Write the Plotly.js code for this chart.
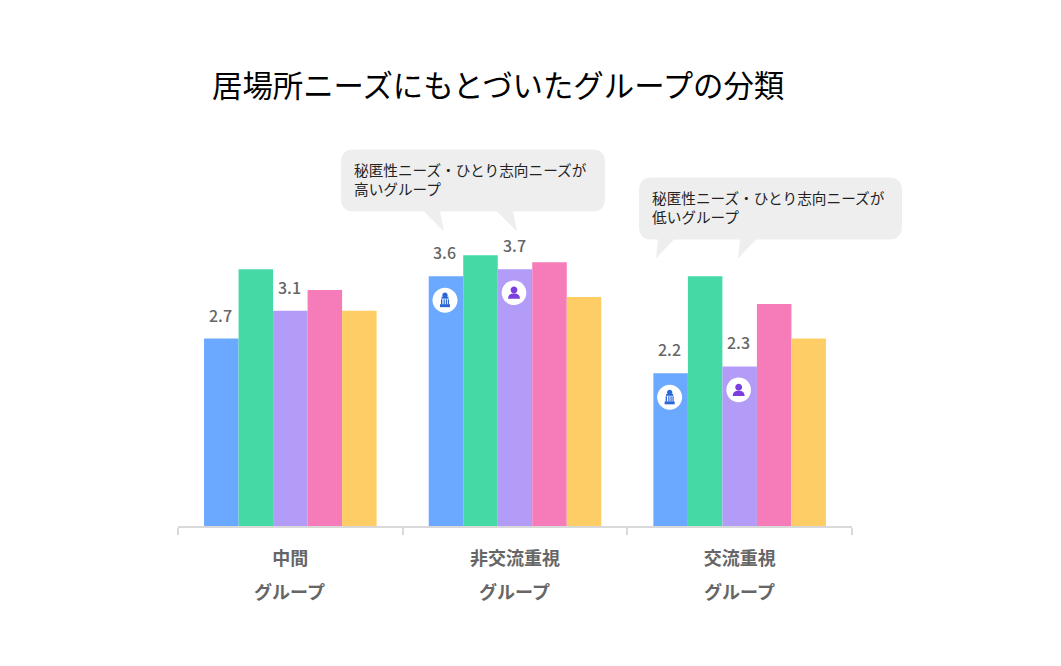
<!DOCTYPE html>
<html>
<head>
<meta charset="utf-8">
<script src="https://cdn.plot.ly/plotly-3.0.1.min.js"></script>
<style>
html, body { margin: 0; padding: 0; background: #fff; }
#plot { width: 1061px; height: 666px; }
</style>
</head>
<body>
<div id="plot"></div>
<script>
// values
const categories = ["中間", "非交流重視", "交流重視"]
const subLabels = ["グループ", "グループ", "グループ"]
const blueValues = [2.7, 3.6, 2.2]
const greenValues = [3.7, 3.9, 3.6]
const purpleValues = [3.1, 3.7, 2.3]
const pinkValues = [3.4, 3.8, 3.2]
const yellowValues = [3.1, 3.3, 2.7]
const seriesColors = ["#6aa9ff", "#45d9a5", "#b39cf8", "#f67bb9", "#ffcd66"]

const titleText = "居場所ニーズにもとづいたグループの分類"
const highNote = "秘匿性ニーズ・ひとり志向ニーズが<br>高いグループ"
const lowNote = "秘匿性ニーズ・ひとり志向ニーズが<br>低いグループ"

const W = 1061
const H = 666
const FONT = '"Noto Sans CJK JP", "Noto Sans", sans-serif'
const margin = { l: 178, r: 209, t: 178.5, b: 140, pad: 0 }
const barGap = 0.232
const barStep = (1 - barGap) / 5
const blueOffset = -2 * barStep
const purpleOffset = 0

// pixel position in the window -> paper coordinates
const paperX = (px) => (px - margin.l) / (W - margin.l - margin.r)
const paperY = (py) => (H - margin.b - py) / (H - margin.t - margin.b)

function bubblePath(x0, y0, x1, y1, r, tails) {
    // rounded box with pointed tails along the bottom edge, right to left
    let d = `M${paperX(x0 + r)},${paperY(y0)} L${paperX(x1 - r)},${paperY(y0)} `
    d += `Q${paperX(x1)},${paperY(y0)} ${paperX(x1)},${paperY(y0 + r)} `
    d += `L${paperX(x1)},${paperY(y1 - r)} `
    d += `Q${paperX(x1)},${paperY(y1)} ${paperX(x1 - r)},${paperY(y1)} `
    for (let t of tails) {
        d += `L${paperX(t[0])},${paperY(y1)} L${paperX(t[1])},${paperY(t[2])} L${paperX(t[3])},${paperY(y1)} `
    }
    d += `L${paperX(x0 + r)},${paperY(y1)} `
    d += `Q${paperX(x0)},${paperY(y1)} ${paperX(x0)},${paperY(y1 - r)} `
    d += `L${paperX(x0)},${paperY(y0 + r)} `
    d += `Q${paperX(x0)},${paperY(y0)} ${paperX(x0 + r)},${paperY(y0)} Z`
    return {
        type: "path", xref: "paper", yref: "paper", path: d,
        fillcolor: "#eeeeee", line: { width: 0 }, layer: "above"
    }
}

function pixelShape(x, value, path, color) {
    // path is in pixels relative to the top of the bar
    return {
        type: "path", xref: "x", yref: "y",
        xsizemode: "pixel", ysizemode: "pixel",
        xanchor: x, yanchor: value, path: path,
        fillcolor: color, line: { width: 0 }, layer: "above"
    }
}

function circlePath(cx, cy, r) {
    // four cubic segments, arcs do not survive the pixel size mode
    const k = 0.5523 * r
    return `M${cx - r},${cy} C${cx - r},${cy + k} ${cx - k},${cy + r} ${cx},${cy + r} ` +
        `C${cx + k},${cy + r} ${cx + r},${cy + k} ${cx + r},${cy} ` +
        `C${cx + r},${cy - k} ${cx + k},${cy - r} ${cx},${cy - r} ` +
        `C${cx - k},${cy - r} ${cx - r},${cy - k} ${cx - r},${cy} Z`
}

function towerIcon(x, value) {
    const color = "#2a66d6"
    const cx = -1
    const cy = -24
    const rect = (l, r, t, b) => `M${cx + l},${cy + t} L${cx + r},${cy + t} L${cx + r},${cy + b} L${cx + l},${cy + b} Z`
    return [
        pixelShape(x, value, circlePath(cx, cy, 12.5), "#ffffff"),
        pixelShape(x, value, circlePath(cx, cy + 5, 2.6), color),
        pixelShape(x, value, rect(-3.5, 3.5, 3.5, 1.5), color),
        pixelShape(x, value, rect(-4, -2.6, 1, -4) + " " + rect(-1.4, -0.2, 1, -4) + " " + rect(0.8, 2, 1, -4) + " " + rect(2.8, 4, 1, -4), color),
        pixelShape(x, value, rect(-5, 5, -4, -7), color)
    ]
}

function personIcon(x, value) {
    const color = "#7b3fe0"
    const cx = -1
    const cy = -23.5
    return [
        pixelShape(x, value, circlePath(cx, cy, 12.3), "#ffffff"),
        pixelShape(x, value, circlePath(cx, cy + 2.7, 3.4), color),
        pixelShape(x, value, `M${cx - 6},${cy - 6} L${cx + 6},${cy - 6} Q${cx + 6},${cy - 0.8} ${cx},${cy - 0.8} Q${cx - 6},${cy - 0.8} ${cx - 6},${cy - 6} Z`, color)
    ]
}

const allSeries = [blueValues, greenValues, purpleValues, pinkValues, yellowValues]
const traces = allSeries.map((values, i) => ({
    type: "bar",
    x: categories,
    y: values,
    marker: { color: seriesColors[i], line: { width: 0 } },
    hoverinfo: "x+y"
}))

const annotations = []

categories.forEach((cat, i) => {
    annotations.push({
        xref: "x", yref: "paper", x: i, y: 0, yanchor: "middle", yshift: -65, xshift: -0.5,
        text: subLabels[i], showarrow: false,
        font: { family: FONT, size: 18, color: "#666666", weight: 700 }
    })
})

// value labels only on the blue and purple bars
function pushValueLabels(values, offset) {
    values.forEach((v, i) => {
        annotations.push({
            xref: "x", yref: "y", x: i + offset, y: v, yanchor: "middle", yshift: 24, xshift: -1,
            text: v.toFixed(1), showarrow: false,
            font: { family: FONT, size: 16, color: "#666666", weight: 500 }
        })
    })
}
pushValueLabels(blueValues, blueOffset)
pushValueLabels(purpleValues, purpleOffset)

function noteAnnotation(text, px, py) {
    return {
        xref: "paper", yref: "paper", x: paperX(px), y: paperY(py),
        xanchor: "left", yanchor: "middle", align: "left",
        text: text, showarrow: false, borderpad: 0,
        font: { family: FONT, size: 14.65, color: "#222222" }
    }
}
annotations.push(noteAnnotation(highNote, 352.5, 178))
annotations.push(noteAnnotation(lowNote, 650.5, 206.5))

const shapes = [
    bubblePath(341, 149, 605, 211, 13, [[513, 517, 231, 497], [440, 444, 231, 424]]),
    bubblePath(639, 177, 902, 239, 13, [[756, 738, 258, 740], [674, 656, 258, 658]])
]
for (let i of [1, 2]) {
    shapes.push(...towerIcon(i + blueOffset, blueValues[i]))
    shapes.push(...personIcon(i + purpleOffset, purpleValues[i]))
}

const layout = {
    width: W,
    height: H,
    margin: margin,
    paper_bgcolor: "#ffffff",
    plot_bgcolor: "#ffffff",
    showlegend: false,
    barmode: "group",
    bargap: barGap,
    bargroupgap: 0,
    font: { family: FONT },
    title: {
        text: titleText,
        x: 212 / W,
        xref: "container",
        xanchor: "left",
        y: 1 - 86 / H,
        yref: "container",
        yanchor: "middle",
        pad: { t: 0, b: 0, l: 0, r: 0 },
        font: { family: FONT, size: 30.4, color: "#000000" }
    },
    xaxis: {
        type: "category",
        tickson: "boundaries",
        ticks: "outside",
        ticklen: 7,
        tickwidth: 1.5,
        tickcolor: "#d9d9d9",
        showline: true,
        linecolor: "#d9d9d9",
        linewidth: 1.5,
        showgrid: false,
        ticklabelstandoff: 16,
        tickfont: { family: FONT, size: 18, color: "#666666", weight: 700 }
    },
    yaxis: {
        range: [0, 5],
        showticklabels: false,
        showgrid: false,
        zeroline: false,
        showline: false,
        ticks: ""
    },
    annotations: annotations,
    shapes: shapes
}

Plotly.newPlot("plot", traces, layout, { displayModeBar: false })
</script>
</body>
</html>
